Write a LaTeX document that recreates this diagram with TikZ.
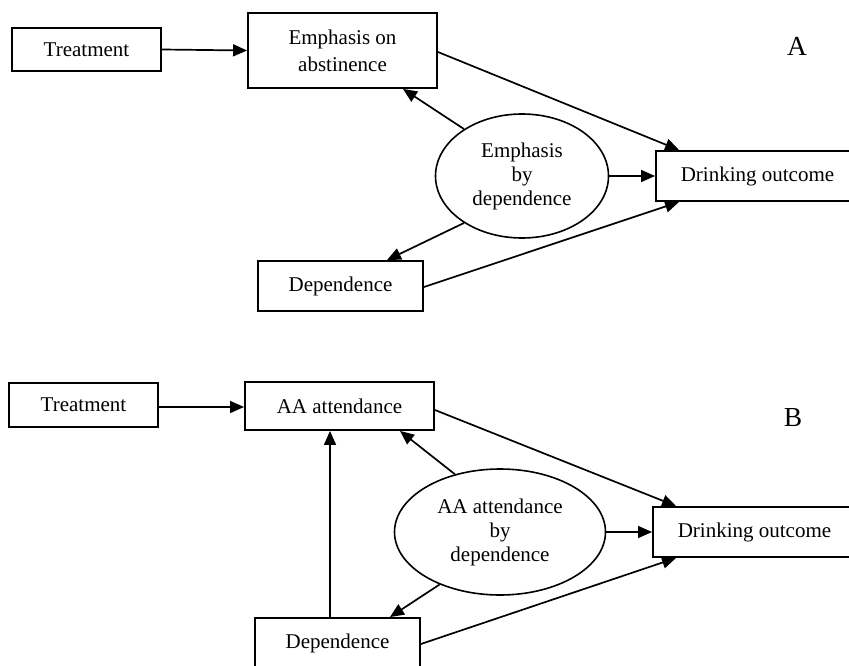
\documentclass[tikz,border=0pt]{standalone}
\usepackage{fontspec}
\setmainfont{Liberation Serif}
\usetikzlibrary{arrows.meta,calc,shapes.geometric}

\begin{document}
\begin{tikzpicture}[x=1pt,y=-1pt,
  box/.style={draw,line width=1.9pt,rectangle,inner sep=0pt,align=center,
    font=\fontsize{21}{27}\selectfont},
  oval/.style={draw,line width=1.6pt,ellipse,inner sep=0pt,align=center,
    font=\fontsize{21}{24}\selectfont},
  link/.style={line width=1.7pt,-{Triangle[length=14pt,width=12pt]}},
  panel/.style={font=\fontsize{27.5}{30}\selectfont}]
\useasboundingbox (0,0) rectangle (849,666);

% ---- Panel A ----
\node[box,minimum width=149pt,minimum height=43pt] (tA) at (86.5,49.5) {Treatment};
\node[box,minimum width=189pt,minimum height=75pt] (eA) at (342.5,50.5) {Emphasis on\\abstinence};
\node[oval,minimum width=173pt,minimum height=124pt] (iA) at (522,176) {Emphasis\\by\\dependence};
\node[box,minimum width=203pt,minimum height=50pt] (oA) at (757.5,176) {Drinking outcome};
\node[box,minimum width=165pt,minimum height=50pt] (dA) at (340.5,286) {Dependence};
\node[panel] (labA) at (797,46) {A};

\draw[link] (tA.east) -- (eA.west);
\draw[link] ($(eA.east)+(0,1.5)$) -- ($(oA.north west)+(24,0)$);
\draw[link] (iA.141) -- ($(eA.south)+(60.5,0)$);
\draw[link] (iA.east) -- (oA.west);
\draw[link] (iA.219) -- ($(dA.north)+(46.5,0)$);
\draw[link] ($(dA.east)+(0,1)$) -- ($(oA.south west)+(24,0)$);

% ---- Panel B ----
\node[box,minimum width=149pt,minimum height=44pt] (tB) at (83.5,405) {Treatment};
\node[box,minimum width=189pt,minimum height=48pt] (aB) at (339.5,406) {AA attendance};
\node[oval,minimum width=211pt,minimum height=126pt] (iB) at (500,532) {AA attendance\\by\\dependence};
\node[box,minimum width=203pt,minimum height=50pt] (oB) at (754.5,532) {Drinking outcome};
\node[box,minimum width=165pt,minimum height=50pt] (dB) at (337.5,643) {Dependence};
\node[panel] (labB) at (793,418) {B};

\draw[link] ($(tB.east)+(0,2)$) -- ($(aB.west)+(0,1)$);
\draw[link] ($(aB.east)+(0,4)$) -- ($(oB.north west)+(24,0)$);
\draw[link] (iB.128) -- ($(aB.south)+(60.5,0)$);
\draw[link] (iB.east) -- (oB.west);
\draw[link] (iB.221) -- ($(dB.north)+(52.5,0)$);
\draw[link] ($(dB.north)+(-7.5,0)$) -- ($(aB.south)+(-9.5,0)$);
\draw[link] ($(dB.east)+(0,1)$) -- ($(oB.south west)+(24,0)$);
\end{tikzpicture}
\end{document}
